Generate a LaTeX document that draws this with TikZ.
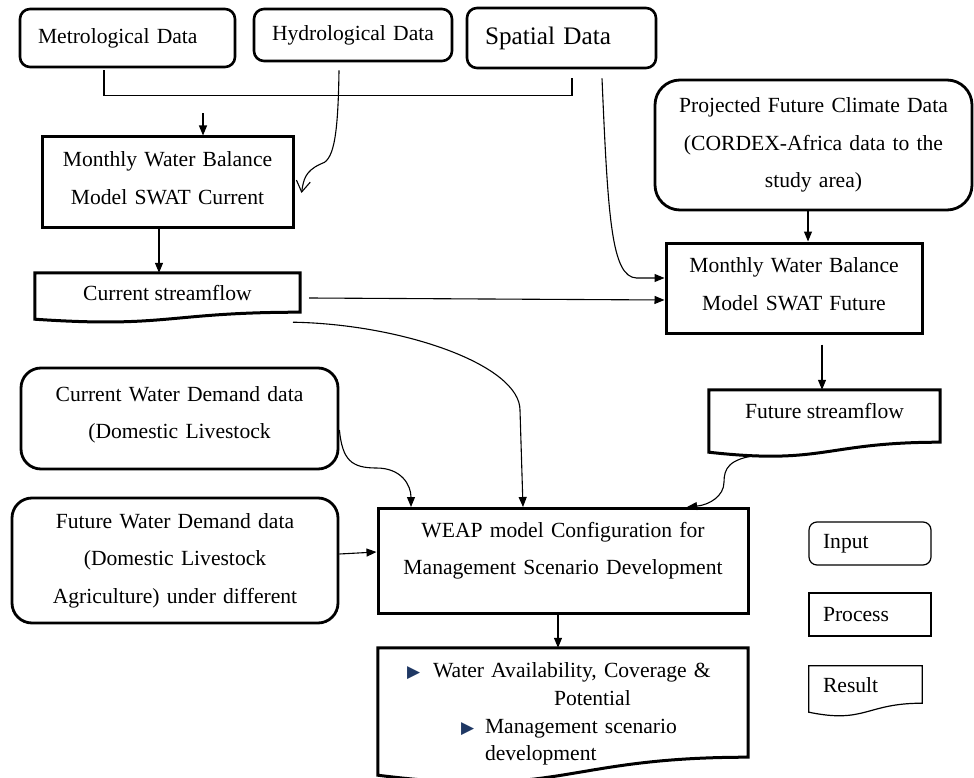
\documentclass[tikz,border=0pt]{standalone}
\usepackage{fontspec}
\setmainfont{Liberation Serif}
\newfontfamily\bulletfont{DejaVu Sans}
\usetikzlibrary{arrows.meta}
\definecolor{bulletblue}{HTML}{1F3864}
\def\wavebox[#1](#2)(#3){\draw[#1] (#2.south west) -- (#2.north west) -- (#2.north east) -- ([yshift=#3]#2.south east) .. controls ([yshift=#3]#2.south) and ([yshift=-1.3*#3]#2.south) .. (#2.south west) -- cycle;}
\def\bul{{\bulletfont\fontsize{17}{17}\selectfont\textcolor{bulletblue}{▶}}}

\begin{document}
\begin{tikzpicture}[x=1pt, y=-1pt,
		txt/.style={font=\fontsize{21.6}{37.5}\selectfont},
		inbox/.style={txt, draw, line width=2.6pt, rounded corners=10pt, align=left, inner xsep=18pt},
		databox/.style={txt, draw, line width=2.8pt, rounded corners=20pt, align=center},
		procbox/.style={txt, draw, line width=3pt, align=center, inner xsep=4pt, text depth=45pt},
		docbox/.style={txt, inner xsep=0pt},
		keybox/.style={txt, draw, line width=1.2pt, align=left, inner xsep=14pt},
		conn/.style={line width=1.1pt},
		arr/.style={conn, -{Triangle[length=10pt,width=8pt]}}]
		%%%%% START %%%%%
		\useasboundingbox (0,0) rectangle (974,778);
		
		% inputs
		\node[inbox, text width=179pt, minimum width=215pt, minimum height=58pt] (met) at (127.5,38) {Metrological Data};
		\node[inbox, text width=162pt, minimum width=198pt, minimum height=52pt] (hyd) at (353,35) {Hydrological Data};
		\node[inbox, font=\fontsize{25.2}{30}\selectfont, text width=153pt, minimum width=189pt, minimum height=60pt] (spa) at (561.5,38) {Spatial Data};
		\node[databox, rounded corners=25pt, text width=300pt, minimum width=317pt, minimum height=130pt] (proj) at (813.5,145) {Projected Future Climate Data\\(CORDEX-Africa data to the\\study area)};
		\node[databox, text width=300pt, text depth=49pt, minimum width=317pt, minimum height=101pt] (curdem) at (179.5,418.5) {Current Water Demand data\\(Domestic Livestock};
		\node[databox, text width=300pt, minimum width=326pt, minimum height=125pt] (futdem) at (175,560.5) {Future Water Demand data\\(Domestic Livestock\\Agriculture) under different};
		
		% processes
		\node[procbox, text width=240pt, minimum width=251pt, minimum height=90pt] (swatc) at (167.5,182) {Monthly Water Balance\\Model SWAT Current};
		\node[procbox, text width=240pt, minimum width=256pt, minimum height=90pt] (swatf) at (794,288) {Monthly Water Balance\\Model SWAT Future};
		\node[procbox, text width=350pt, text depth=63pt, minimum width=370pt, minimum height=105pt] (weap) at (563,561) {WEAP model Configuration for\\Management Scenario Development};
		
		% results
		\node[docbox, text depth=6pt, minimum width=265pt, minimum height=46pt] (curflow) at (167.5,296) {Current streamflow};
		\wavebox[line width=3pt](curflow)(7pt)
		\node[docbox, text depth=21pt, minimum width=231pt, minimum height=62pt] (futflow) at (824.5,421) {Future streamflow};
		\wavebox[line width=3pt](futflow)(10pt)
		\node[docbox, font=\fontsize{21.6}{27.5}\selectfont, align=left, text width=340pt, inner xsep=15pt, text depth=82pt, minimum width=370pt, minimum height=127pt] (result) at (563,711.5) {%
			\hspace*{14pt}\makebox[26pt][l]{\bul}Water Availability, Coverage \&\\
			\hspace*{161pt}Potential\\
			\hspace*{68pt}\makebox[24pt][l]{\bul}Management scenario\\
			\hspace*{92pt}development};
		\wavebox[line width=3pt](result)(18pt)
		
		% key
		\node[keybox, rounded corners=8pt, text width=94pt, minimum width=122pt, minimum height=43pt] (keyin) at (870,543.5) {Input};
		\node[keybox, text width=94pt, minimum width=122pt, minimum height=43pt] (keyproc) at (870,614.5) {Process};
		\node[docbox, align=left, text width=85pt, inner xsep=14pt, text depth=7pt, minimum width=113pt, minimum height=46pt] (keyres) at (865.5,689) {Result};
		\wavebox[line width=1.2pt](keyres)(9pt)
		
		% connectors
		\draw[conn] ([xshift=-23.5pt,yshift=-2pt]met.south) |- ([xshift=10.5pt,yshift=-26pt]spa.south) -- ([xshift=10.5pt,yshift=-9pt]spa.south);
		\draw[arr] ([xshift=35.5pt,yshift=22pt]swatc.north) -- ([xshift=35.5pt]swatc.north);
		\draw[conn, -{Straight Barb[length=11pt,width=14pt]}] ([xshift=-14pt,yshift=-8pt]hyd.south) .. controls +(-1,71) and +(13,-3) .. ++(-19,94) .. controls +(-15,7) and +(2,-13) .. ([xshift=7pt,yshift=-11pt]swatc.east);
		\draw[arr] ([xshift=-8.5pt]swatc.south) -- ([xshift=-8.5pt]curflow.north);
		\draw[arr] ([xshift=9pt,yshift=-2pt]curflow.east) -- ([yshift=-12pt]swatf.west);
		\draw[arr] ([xshift=40.5pt,yshift=-9pt]spa.south) .. controls +(6,140) and +(-25,-1) .. ([xshift=-28pt,yshift=10pt]swatf.west) -- ([yshift=10pt]swatf.west);
		\draw[arr] ([xshift=-5.5pt]proj.south) -- ([xshift=14pt]swatf.north);
		\draw[arr] ([xshift=28pt,yshift=-10pt]swatf.south) -- ([xshift=-2.5pt]futflow.north);
		\draw[arr] ([xshift=-67.5pt,yshift=-3pt]futflow.south) .. controls +(-28,4) and +(0,-14) .. ++(-33,27) .. controls +(0,14) and +(22,-2) .. ([xshift=124pt]weap.north);
		\draw[arr] ([xshift=125.5pt,yshift=-3pt]curflow.south) .. controls +(110,2) and +(0,-45) .. ++(227,88) -- ([xshift=-40pt]weap.north);
		\draw[arr] ([yshift=-11.5pt]curdem.east) .. controls +(3,30) and +(-25,0) .. ++(37,38) .. controls +(25,0) and +(0,-22) .. ([xshift=-152pt]weap.north);
		\draw[arr] ([yshift=6.5pt]futdem.east) -- ([yshift=9pt]weap.west);
		\draw[arr] ([xshift=-5pt]weap.south) -- ([xshift=-5pt]result.north);
		%%%%% END %%%%%
	\end{tikzpicture}
\end{document}
